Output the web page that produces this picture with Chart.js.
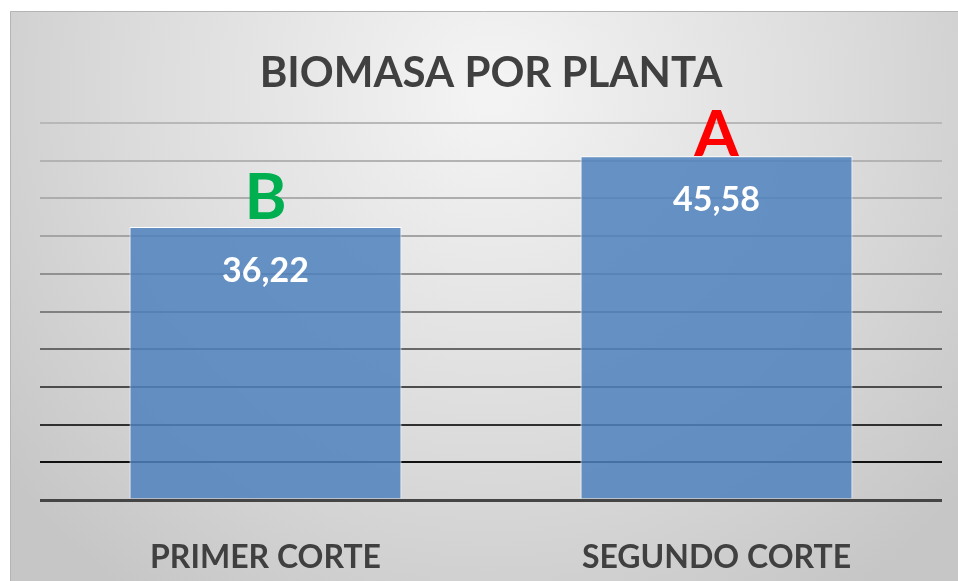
<!DOCTYPE html>
<html>
<head>
<meta charset="utf-8">
<script src="https://cdn.jsdelivr.net/npm/chart.js@4"></script>
<style>
  body { margin: 0; background: #ffffff; }
  #wrap { width: 958px; height: 581px; }
</style>
</head>
<body>
<div id="wrap"><canvas id="biomasaChart" width="958" height="581"></canvas></div>
<script>
var categories = ['PRIMER CORTE', 'SEGUNDO CORTE']
var biomasa = [36.22, 45.58]
var valueLabels = ['36,22', '45,58']
var groupLetters = ['B', 'A']
var letterColours = ['#00B050', '#FF0000']
var letterGap = [8, 0]

// gridline shades, bottom (0) to top (50)
var gridShades = ['#454545', '#111111', '#303030', '#4c4c4c', '#686868', '#808080', '#919191', '#a4a4a4', '#adadad', '#b3b3b3', '#b8b8b8']

var fontFamily = 'Lato, "Open Sans", sans-serif'

var backgroundPlugin = {
  id: 'frameBackground',
  beforeDraw: function (chart) {
    var ctx = chart.ctx
    ctx.save()
    ctx.fillStyle = '#ffffff'
    ctx.fillRect(0, 0, chart.width, chart.height)
    var grad = ctx.createRadialGradient(490, 90, 20, 490, 90, 620)
    grad.addColorStop(0, '#f3f3f3')
    grad.addColorStop(0.55, '#dcdcdc')
    grad.addColorStop(1, '#c6c6c6')
    ctx.fillStyle = grad
    ctx.fillRect(10, 11, chart.width - 10, chart.height - 11)
    ctx.strokeStyle = '#b4b4b4'
    ctx.lineWidth = 1
    ctx.beginPath()
    ctx.moveTo(10.5, chart.height)
    ctx.lineTo(10.5, 11.5)
    ctx.lineTo(chart.width, 11.5)
    ctx.stroke()
    ctx.restore()
  }
}

var barTextPlugin = {
  id: 'barText',
  afterDatasetsDraw: function (chart) {
    var ctx = chart.ctx
    var meta = chart.getDatasetMeta(0)
    ctx.save()
    ctx.textAlign = 'center'
    meta.data.forEach(function (bar, i) {
      ctx.fillStyle = '#ffffff'
      ctx.font = 'bold 34px ' + fontFamily
      ctx.textBaseline = 'middle'
      ctx.fillText(valueLabels[i], bar.x, bar.y + 44)

      ctx.fillStyle = letterColours[i]
      ctx.font = 'bold 64px ' + fontFamily
      ctx.textBaseline = 'alphabetic'
      ctx.fillText(groupLetters[i], bar.x, bar.y - letterGap[i])
    })
    ctx.restore()
  }
}

var chart = new Chart(document.getElementById('biomasaChart').getContext('2d'), {
  type: 'bar',
  data: {
    labels: categories,
    datasets: [{
      label: 'Biomasa por planta',
      data: biomasa,
      backgroundColor: 'rgba(79, 129, 189, 0.85)',
      borderColor: '#ffffff',
      borderWidth: 1,
      categoryPercentage: 1,
      barPercentage: 0.603
    }]
  },
  options: {
    responsive: false,
    animation: false,
    layout: {
      padding: { left: 40, right: 16, top: 0, bottom: 0 }
    },
    plugins: {
      legend: { display: false },
      tooltip: { enabled: false },
      title: {
        display: true,
        text: 'BIOMASA POR PLANTA',
        color: '#404040',
        font: { family: fontFamily, size: 42, weight: 'bold' },
        padding: { top: 48, bottom: 24.6 }
      }
    },
    scales: {
      x: {
        grid: { display: false },
        border: { display: false },
        ticks: {
          color: '#404040',
          padding: 30,
          font: { family: fontFamily, size: 32, weight: 'bold' }
        },
        afterFit: function (scale) {
          scale.height = 81
        }
      },
      y: {
        min: 0,
        max: 50,
        ticks: { display: false, stepSize: 5 },
        border: { display: false },
        grid: {
          drawTicks: false,
          color: function (context) {
            return gridShades[context.index] || '#b8b8b8'
          },
          lineWidth: function (context) {
            return context.index === 0 ? 3 : 2
          }
        },
        afterFit: function (scale) {
          scale.width = 0
        }
      }
    }
  },
  plugins: [backgroundPlugin, barTextPlugin]
})
</script>
</body>
</html>
